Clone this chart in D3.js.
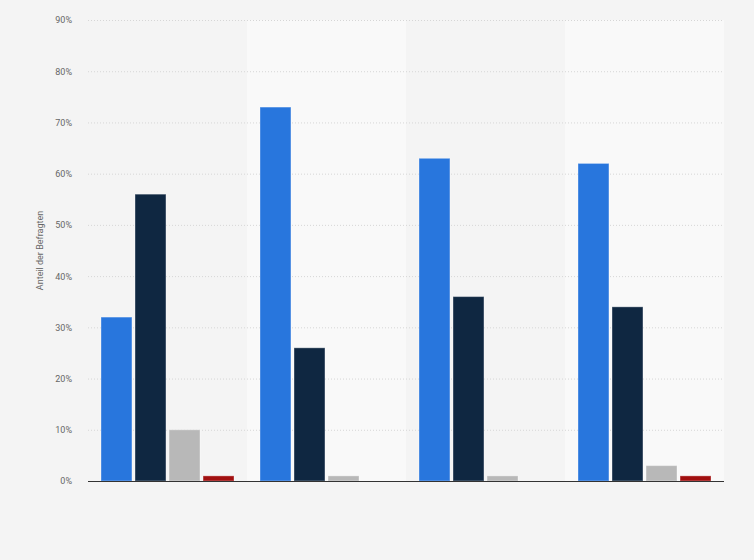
<!DOCTYPE html>
<html>
<head>
<meta charset="utf-8">
<script src="https://cdnjs.cloudflare.com/ajax/libs/d3/7.8.5/d3.min.js"></script>
<style>
  body { margin: 0; background: #f4f4f4; }
  svg { display: block; }
</style>
</head>
<body>
<svg id="chart"></svg>
<script>
// Daten
const groups = ['G1', 'G2', 'G3', 'G4'];
const seriesNames = ['S1', 'S2', 'S3', 'S4'];
const seriesColors = ['#2876dd', '#0f2741', '#b8b8b8', '#a10f0f'];
const s1 = [32, 73, 63, 62];
const s2 = [56, 26, 36, 34];
const s3 = [10, 1, 1, 3];
const s4 = [1, 0, 0, 1];
const yTicks = [0, 10, 20, 30, 40, 50, 60, 70, 80, 90];

const seriesValues = [s1, s2, s3, s4];

const width = 754, height = 560;
const margin = { top: 20, right: 30, bottom: 79, left: 88 };

const svg = d3.select('#chart')
    .attr('width', width)
    .attr('height', height);

svg.append('rect')
    .attr('width', width)
    .attr('height', height)
    .attr('fill', '#f4f4f4');

const x0 = d3.scaleBand()
    .domain(groups)
    .range([margin.left, width - margin.right])
    .paddingInner(0)
    .paddingOuter(0);

const x1 = d3.scaleBand()
    .domain(seriesNames)
    .range([13, x0.bandwidth() - 13])
    .paddingInner(0.09)
    .paddingOuter(0);

const y = d3.scaleLinear()
    .domain([0, 90])
    .range([height - margin.bottom, margin.top]);

// abwechselnde Hintergrundstreifen
svg.append('g')
    .selectAll('rect')
    .data(groups.filter((d, i) => i % 2 === 1))
    .join('rect')
    .attr('x', d => x0(d))
    .attr('y', y(90))
    .attr('width', x0.bandwidth())
    .attr('height', y(0) - y(90))
    .attr('fill', '#f9f9f9');

// Gitterlinien + Achse
const yAxis = svg.append('g')
    .attr('transform', `translate(${margin.left},0)`)
    .call(d3.axisLeft(y)
        .tickValues(yTicks)
        .tickSize(-(width - margin.left - margin.right))
        .tickPadding(16)
        .tickFormat(d => d + '%'));

yAxis.select('.domain').remove();
yAxis.selectAll('.tick line')
    .attr('stroke', '#d6d6d6')
    .attr('stroke-dasharray', '1,2');
yAxis.selectAll('.tick text')
    .attr('fill', '#666')
    .attr('font-family', 'Roboto, Arial, sans-serif')
    .attr('font-size', '9px');

// Balken
const gGroups = svg.append('g')
    .selectAll('g')
    .data(groups)
    .join('g')
    .attr('transform', d => `translate(${x0(d)},0)`);

gGroups.selectAll('rect')
    .data((g, gi) => seriesNames.map((s, si) => ({ s, si, v: seriesValues[si][gi] })))
    .join('rect')
    .filter(d => d.v > 0)
    .attr('x', d => x1(d.s))
    .attr('y', d => y(d.v))
    .attr('width', x1.bandwidth())
    .attr('height', d => y(0) - y(d.v))
    .attr('fill', d => seriesColors[d.si])
    .attr('stroke', 'rgba(255,255,255,0.35)')
    .attr('stroke-width', 1);

// Nulllinie
svg.append('line')
    .attr('x1', margin.left)
    .attr('x2', width - margin.right)
    .attr('y1', y(0) + 0.5)
    .attr('y2', y(0) + 0.5)
    .attr('stroke', '#333')
    .attr('stroke-width', 1);

// Achsentitel
svg.append('text')
    .attr('transform', `translate(43,${(y(0) + y(90)) / 2}) rotate(-90)`)
    .attr('text-anchor', 'middle')
    .attr('fill', '#666')
    .attr('font-family', 'Roboto, Arial, sans-serif')
    .attr('font-size', '9px')
    .text('Anteil der Befragten');
</script>
</body>
</html>
